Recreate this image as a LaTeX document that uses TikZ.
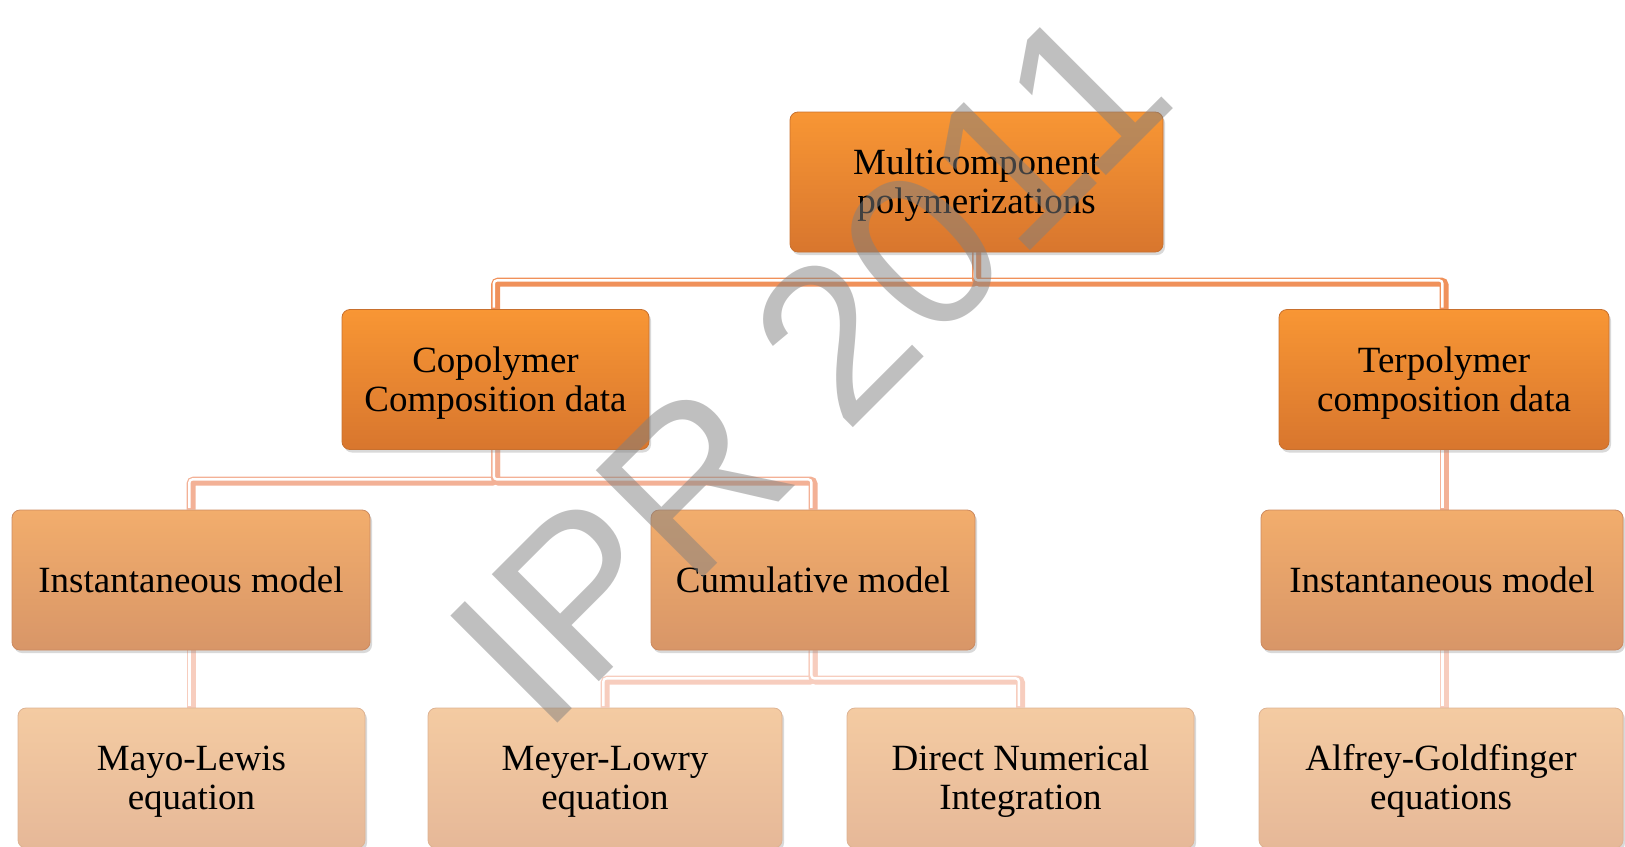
\documentclass[tikz,border=0pt]{standalone}
\usepackage{fontspec}
\setmainfont{Liberation Serif}
\newfontfamily\wmfont{Liberation Sans}
\usetikzlibrary{shadows,backgrounds}
\newcommand{\topst}{\rule{0pt}{0.891em}}
\newcommand{\botst}{\rule[-0.216em]{0pt}{0pt}}
\definecolor{orA1}{HTML}{F89634}
\definecolor{orA2}{HTML}{D8762E}
\definecolor{orAd}{HTML}{C8702E}
\definecolor{orB1}{HTML}{F2AD6C}
\definecolor{orB2}{HTML}{D89668}
\definecolor{orBd}{HTML}{CC8A60}
\definecolor{orC1}{HTML}{F4CBA2}
\definecolor{orC2}{HTML}{E6B898}
\definecolor{orCd}{HTML}{DDB292}
\definecolor{lnA}{HTML}{F0915A}
\definecolor{lnB}{HTML}{F3B196}
\definecolor{lnC}{HTML}{F7CDBE}
\begin{document}
\begin{tikzpicture}[x=1pt,y=-1pt,
  box/.style={rounded corners=8pt, minimum height=140pt, inner sep=0pt, align=center,
    font=\fontsize{37}{39}\selectfont, line width=0.8pt,
    drop shadow={opacity=0.3, shadow xshift=2pt, shadow yshift=-3pt}},
  lvA/.style={box, top color=orA1, bottom color=orA2, draw=orAd},
  lvB/.style={box, top color=orB1, bottom color=orB2, draw=orBd},
  lvC/.style={box, top color=orC1, bottom color=orC2, draw=orCd},
  conn/.style={line width=9pt, rounded corners=3pt,
    postaction={draw=white, line width=2.4pt, transform canvas={xshift=-1.6pt, yshift=1.6pt}}},
  connA/.style={conn, draw=lnA},
  connB/.style={conn, draw=lnB},
  connC/.style={conn, draw=lnC}]
\useasboundingbox (0,0) rectangle (1625,846);
% connector junction levels
\coordinate (j1) at (977,282);
\coordinate (j2) at (493,481);
\coordinate (j3) at (813,680);
% nodes
\node[lvA, minimum width=373pt] (top) at (976.5,182) {\topst Multicomponent\\polymerizations\botst};
\node[lvA, minimum width=307pt] (co) at (495.5,379.5) {\topst Copolymer\\Composition data\botst};
\node[lvA, minimum width=330pt] (ter) at (1444,379.5) {\topst Terpolymer\\composition data\botst};
\node[lvB, minimum width=358pt] (inst1) at (191,580) {Instantaneous model};
\node[lvB, minimum width=324pt] (cum) at (813,580) {Cumulative model};
\node[lvB, minimum width=362pt] (inst2) at (1442,580) {Instantaneous model};
\node[lvC, minimum width=347pt] (mayo) at (191.5,778) {\topst Mayo-Lewis\\equation\botst};
\node[lvC, minimum width=354pt] (meyer) at (605,778) {\topst Meyer-Lowry\\equation\botst};
\node[lvC, minimum width=347pt] (direct) at (1020.5,778) {\topst Direct Numerical\\Integration\botst};
\node[lvC, minimum width=364pt] (alfrey) at (1441,778) {\topst Alfrey-Goldfinger\\equations\botst};
% connectors, behind the boxes
\begin{pgfonlayer}{background}
\draw[connA] (top.south) -- (top.south |- j1) -| (co.north);
\draw[connA] (top.south) -- (top.south |- j1) -| (ter.north);
\draw[connB] (co.south) -- (co.south |- j2) -| (inst1.north);
\draw[connB] (co.south) -- (co.south |- j2) -| (cum.north);
\draw[connB] (ter.south) -- (ter.south |- inst2.north);
\draw[connC] (inst1.south) -- (inst1.south |- mayo.north);
\draw[connC] (cum.south) -- (cum.south |- j3) -| (meyer.north);
\draw[connC] (cum.south) -- (cum.south |- j3) -| (direct.north);
\draw[connC] (inst2.south -| ter.south) -- (ter.south |- alfrey.north);
\end{pgfonlayer}
% watermark
\node[rotate=45, anchor=base, inner sep=0pt, text=black!50, opacity=0.5,
  font=\wmfont\fontsize{220}{220}\selectfont] (wm) at (862,419) {IPR 2011};
\end{tikzpicture}
\end{document}
